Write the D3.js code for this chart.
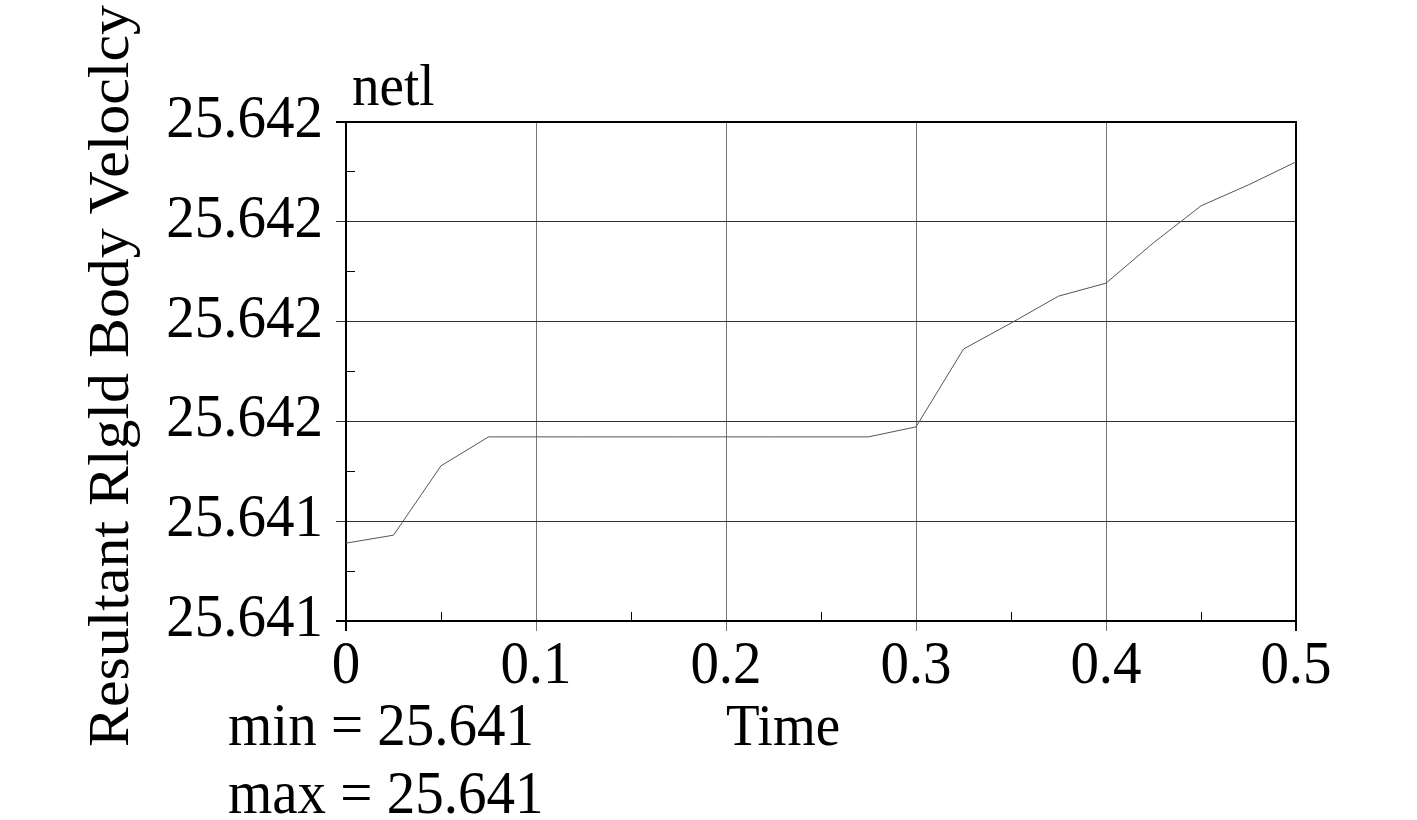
<!DOCTYPE html>
<html lang="en">
<head>
    <meta charset="UTF-8">
    <title>Resultant Rigid Body Velocity</title>
    <style>
        body { margin: 0; background: #fff; }
        text { font-family: 'Liberation Serif', 'Times New Roman', serif; fill: #000; }
    </style>
</head>
<body>
    <div id='chart'></div>

    <script src='https://cdnjs.cloudflare.com/ajax/libs/d3/7.8.5/d3.min.js'></script>
    <script type='text/javascript'>
        // data
        const times = [0, 0.025, 0.05, 0.075, 0.1, 0.125, 0.15, 0.175, 0.2, 0.225, 0.25, 0.275,
                       0.3, 0.325, 0.35, 0.375, 0.4, 0.425, 0.45, 0.475, 0.5];
        const velocity = [25.641356, 25.641372, 25.641511, 25.641569, 25.641569, 25.641569, 25.641569,
                          25.641569, 25.641569, 25.641569, 25.641569, 25.641569, 25.641589, 25.641745,
                          25.641797, 25.641851, 25.641877, 25.641958, 25.642032, 25.642074, 25.642120];
        const yTicks = [25.6412, 25.6414, 25.6416, 25.6418, 25.6420, 25.6422];
        const yTickLabels = ['25.641', '25.641', '25.642', '25.642', '25.642', '25.642'];
        const xTicks = [0, 0.1, 0.2, 0.3, 0.4, 0.5];
        const xTickLabels = ['0', '0.1', '0.2', '0.3', '0.4', '0.5'];

        const width = 1417, height = 820;
        const pLeft = 346, pRight = 1296, pTop = 122, pBottom = 621;
        const fs = 57;
        const sy = 1.06; // the text in the original is a little stretched vertically

        const svg = d3.select('#chart')
                      .append('svg')
                        .attr('width', width)
                        .attr('height', height);

        const x = d3.scaleLinear().domain([0, 0.5]).range([pLeft, pRight]);
        const y = d3.scaleLinear().domain([25.6412, 25.6422]).range([pBottom, pTop]);

        // grid lines
        svg.append('g').selectAll('line')
            .data(xTicks.slice(1, -1))
            .join('line')
              .attr('x1', d => x(d)).attr('x2', d => x(d))
              .attr('y1', pTop).attr('y2', pBottom + 10)
              .attr('stroke', '#777').attr('stroke-width', 1)
              .attr('shape-rendering', 'crispEdges');

        svg.append('g').selectAll('line')
            .data(yTicks.slice(1, -1))
            .join('line')
              .attr('x1', pLeft - 10).attr('x2', pRight)
              .attr('y1', d => y(d)).attr('y2', d => y(d))
              .attr('stroke', '#333').attr('stroke-width', 1)
              .attr('shape-rendering', 'crispEdges');

        // minor ticks, inside
        const yMinor = d3.range(0, yTicks.length - 1).map(i => (yTicks[i] + yTicks[i + 1]) / 2);
        const xMinor = d3.range(0, xTicks.length - 1).map(i => (xTicks[i] + xTicks[i + 1]) / 2);
        svg.append('g').selectAll('line')
            .data(yMinor)
            .join('line')
              .attr('x1', pLeft).attr('x2', pLeft + 9)
              .attr('y1', d => y(d)).attr('y2', d => y(d))
              .attr('stroke', '#000').attr('shape-rendering', 'crispEdges');
        svg.append('g').selectAll('line')
            .data(xMinor)
            .join('line')
              .attr('x1', d => x(d)).attr('x2', d => x(d))
              .attr('y1', pBottom).attr('y2', pBottom - 9)
              .attr('stroke', '#000').attr('shape-rendering', 'crispEdges');

        // frame
        svg.append('rect')
            .attr('x', pLeft).attr('y', pTop)
            .attr('width', pRight - pLeft).attr('height', pBottom - pTop)
            .attr('fill', 'none').attr('stroke', '#000').attr('stroke-width', 1.5)
            .attr('shape-rendering', 'crispEdges');
        // outside ticks at the frame edges
        [pTop, pBottom].forEach(v => svg.append('line')
            .attr('x1', pLeft - 10).attr('x2', pLeft).attr('y1', v).attr('y2', v)
            .attr('stroke', '#000').attr('stroke-width', 1.5).attr('shape-rendering', 'crispEdges'));
        [pLeft, pRight].forEach(v => svg.append('line')
            .attr('x1', v).attr('x2', v).attr('y1', pBottom).attr('y2', pBottom + 10)
            .attr('stroke', '#000').attr('stroke-width', 1.5).attr('shape-rendering', 'crispEdges'));

        // data line
        const line = d3.line()
            .x((d, i) => x(times[i]))
            .y(d => y(d));
        svg.append('path')
            .datum(velocity)
            .attr('d', line)
            .attr('fill', 'none')
            .attr('stroke', '#555')
            .attr('stroke-width', 1);

        const at = (tx, ty) => `translate(${tx}, ${ty}) scale(1, ${sy})`;

        // tick labels
        svg.append('g').selectAll('text')
            .data(yTicks)
            .join('text')
              .attr('transform', d => at(pLeft - 23, y(d) + 15))
              .attr('text-anchor', 'end')
              .style('font-size', fs + 'px')
              .text((d, i) => yTickLabels[i]);

        svg.append('g').selectAll('text')
            .data(xTicks)
            .join('text')
              .attr('transform', d => at(x(d), 683))
              .attr('text-anchor', 'middle')
              .style('font-size', fs + 'px')
              .text((d, i) => xTickLabels[i]);

        // titles
        svg.append('text')
            .attr('transform', at(352, 105))
            .style('font-size', '55px')
            .text('netl');

        svg.append('text')
            .attr('transform', at(783, 745))
            .attr('text-anchor', 'middle')
            .style('font-size', '55px')
            .text('Time');

        svg.append('text')
            .attr('transform', at(228, 745))
            .style('font-size', fs + 'px')
            .text('min = 25.641');

        svg.append('text')
            .attr('transform', at(228, 813))
            .style('font-size', fs + 'px')
            .text('max = 25.641');

        svg.append('text')
            .attr('transform', `translate(128, 747) scale(1, 1.05) rotate(-90)`)
            .style('font-size', fs + 'px')
            .text('Resultant Rlgld Body Veloclcy');
    </script>
</body>
</html>
